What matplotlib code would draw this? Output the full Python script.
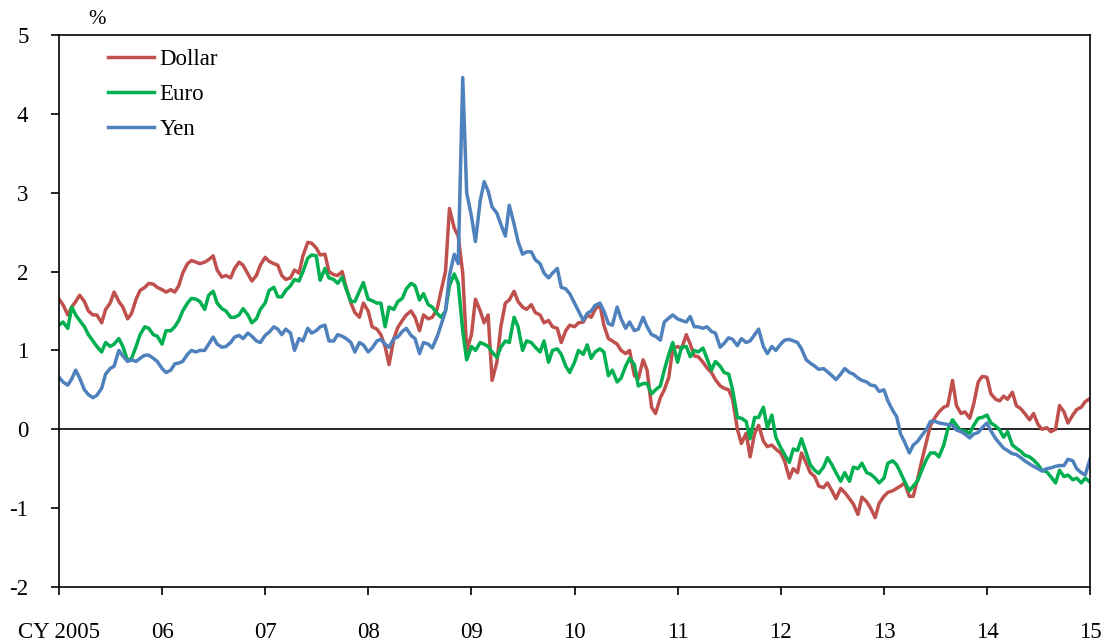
import numpy as np
import pandas as pd
import matplotlib
matplotlib.use("Agg")
import matplotlib.pyplot as plt

plt.rcParams["font.family"] = ["Liberation Serif", "DejaVu Serif"]
plt.rcParams["axes.unicode_minus"] = False

# semi-monthly observations, Jan 2005 - Jan 2015 (%)
dates = pd.date_range("2005-01-01", periods=241, freq="SMS")

dollar = [
    # 2005
    1.65, 1.58, 1.45, 1.55, 1.62, 1.70, 1.62, 1.50, 1.45, 1.45, 1.35, 1.52,
    1.60, 1.74, 1.62, 1.55, 1.40, 1.47, 1.65, 1.76, 1.80, 1.85, 1.84, 1.80,
    # 2006
    1.77, 1.74, 1.77, 1.74, 1.82, 1.98, 2.10, 2.14, 2.12, 2.10, 2.12, 2.15,
    2.20, 2.02, 1.93, 1.95, 1.92, 2.04, 2.12, 2.08, 1.97, 1.88, 1.95, 2.08,
    # 2007
    2.18, 2.13, 2.10, 2.08, 1.95, 1.90, 1.92, 2.02, 1.98, 2.20, 2.37, 2.36,
    2.30, 2.21, 2.22, 2.00, 1.96, 1.95, 2.00, 1.80, 1.60, 1.48, 1.42, 1.60,
    # 2008
    1.50, 1.30, 1.27, 1.20, 1.05, 0.82, 1.15, 1.29, 1.38, 1.45, 1.50, 1.42,
    1.25, 1.45, 1.40, 1.42, 1.52, 1.75, 2.00, 2.80, 2.55, 2.45, 1.98, 1.00,
    # 2009
    1.20, 1.65, 1.50, 1.35, 1.45, 0.62, 0.85, 1.30, 1.60, 1.64, 1.75, 1.62,
    1.55, 1.52, 1.58, 1.48, 1.45, 1.35, 1.38, 1.30, 1.28, 1.10, 1.25, 1.32,
    # 2010
    1.30, 1.35, 1.36, 1.45, 1.42, 1.52, 1.58, 1.32, 1.15, 1.12, 1.08, 1.00,
    0.96, 1.00, 0.68, 0.64, 0.88, 0.75, 0.28, 0.20, 0.40, 0.50, 0.66, 1.02,
    # 2011
    1.05, 1.02, 1.20, 1.08, 0.93, 0.92, 0.85, 0.78, 0.72, 0.63, 0.55, 0.52,
    0.50, 0.38, 0.00, -0.18, -0.05, -0.35, -0.05, 0.05, -0.15, -0.22, -0.20, -0.25,
    # 2012
    -0.30, -0.40, -0.62, -0.50, -0.55, -0.30, -0.43, -0.55, -0.60, -0.72, -0.74, -0.68,
    -0.78, -0.88, -0.75, -0.80, -0.88, -0.95, -1.08, -0.86, -0.92, -1.00, -1.12, -0.94,
    # 2013
    -0.85, -0.80, -0.78, -0.75, -0.72, -0.68, -0.85, -0.85, -0.62, -0.40, -0.15, 0.05,
    0.15, 0.22, 0.28, 0.30, 0.62, 0.30, 0.20, 0.22, 0.14, 0.32, 0.60, 0.67,
    # 2014
    0.66, 0.45, 0.38, 0.36, 0.42, 0.38, 0.47, 0.30, 0.26, 0.20, 0.12, 0.20,
    0.06, 0.00, 0.02, -0.03, 0.00, 0.30, 0.22, 0.08, 0.18, 0.25, 0.28, 0.35,
    # 2015
    0.39,
]

euro = [
    # 2005
    1.32, 1.36, 1.28, 1.55, 1.45, 1.38, 1.30, 1.20, 1.12, 1.05, 0.98, 1.10,
    1.05, 1.08, 1.15, 1.05, 0.87, 0.90, 1.05, 1.20, 1.30, 1.28, 1.20, 1.18,
    # 2006
    1.08, 1.25, 1.25, 1.30, 1.38, 1.50, 1.60, 1.66, 1.65, 1.62, 1.52, 1.70,
    1.75, 1.60, 1.53, 1.50, 1.42, 1.42, 1.45, 1.53, 1.45, 1.35, 1.40, 1.52,
    # 2007
    1.60, 1.76, 1.80, 1.68, 1.68, 1.76, 1.82, 1.90, 1.88, 2.00, 2.17, 2.21,
    2.20, 1.89, 2.04, 1.92, 1.90, 1.85, 1.93, 1.78, 1.62, 1.62, 1.75, 1.86,
    # 2008
    1.65, 1.63, 1.60, 1.60, 1.30, 1.55, 1.52, 1.62, 1.66, 1.78, 1.85, 1.82,
    1.64, 1.72, 1.58, 1.55, 1.47, 1.42, 1.50, 1.82, 1.97, 1.85, 1.25, 0.88,
    # 2009
    1.05, 1.00, 1.10, 1.08, 1.05, 0.98, 0.91, 1.04, 1.12, 1.10, 1.42, 1.30,
    1.00, 1.12, 1.10, 1.04, 0.98, 1.12, 0.85, 1.00, 1.02, 0.95, 0.80, 0.72,
    # 2010
    0.85, 1.00, 0.95, 1.07, 0.90, 0.98, 1.02, 0.98, 0.68, 0.75, 0.60, 0.65,
    0.80, 0.90, 0.82, 0.55, 0.58, 0.58, 0.45, 0.50, 0.55, 0.75, 0.95, 1.10,
    # 2011
    0.85, 1.04, 1.05, 0.92, 1.00, 0.98, 1.03, 0.90, 0.75, 0.86, 0.80, 0.72,
    0.70, 0.50, 0.15, 0.14, 0.10, -0.12, 0.15, 0.15, 0.28, 0.02, 0.18, -0.10,
    # 2012
    -0.23, -0.32, -0.42, -0.25, -0.27, -0.12, -0.30, -0.45, -0.52, -0.56, -0.48, -0.36,
    -0.45, -0.55, -0.66, -0.55, -0.66, -0.48, -0.50, -0.43, -0.55, -0.57, -0.62, -0.68,
    # 2013
    -0.62, -0.43, -0.40, -0.45, -0.55, -0.66, -0.78, -0.72, -0.65, -0.52, -0.38, -0.30,
    -0.30, -0.35, -0.20, 0.00, 0.12, 0.05, -0.02, -0.02, -0.05, 0.05, 0.14, 0.15,
    # 2014
    0.18, 0.08, 0.04, -0.01, -0.10, -0.03, -0.20, -0.24, -0.28, -0.33, -0.35, -0.39,
    -0.45, -0.52, -0.54, -0.60, -0.68, -0.52, -0.60, -0.58, -0.64, -0.62, -0.68, -0.62,
    # 2015
    -0.67,
]

yen = [
    # 2005
    0.66, 0.60, 0.56, 0.64, 0.75, 0.65, 0.50, 0.44, 0.40, 0.43, 0.52, 0.70,
    0.77, 0.80, 1.00, 0.93, 0.86, 0.88, 0.86, 0.90, 0.94, 0.94, 0.90, 0.86,
    # 2006
    0.77, 0.72, 0.75, 0.83, 0.84, 0.86, 0.95, 1.00, 0.98, 1.00, 1.00, 1.08,
    1.17, 1.08, 1.04, 1.05, 1.10, 1.17, 1.19, 1.15, 1.22, 1.18, 1.12, 1.10,
    # 2007
    1.19, 1.23, 1.30, 1.27, 1.20, 1.27, 1.22, 1.00, 1.15, 1.12, 1.28, 1.22,
    1.25, 1.30, 1.32, 1.12, 1.12, 1.20, 1.18, 1.15, 1.10, 0.98, 1.10, 1.07,
    # 2008
    0.98, 1.03, 1.12, 1.14, 1.08, 1.04, 1.15, 1.17, 1.24, 1.28, 1.19, 1.15,
    0.96, 1.10, 1.08, 1.03, 1.17, 1.32, 1.50, 1.95, 2.22, 2.10, 4.46, 3.00,
    # 2009
    2.70, 2.38, 2.90, 3.14, 3.02, 2.82, 2.74, 2.60, 2.45, 2.84, 2.60, 2.38,
    2.22, 2.25, 2.25, 2.15, 2.10, 1.98, 1.92, 1.98, 2.04, 1.80, 1.78, 1.72,
    # 2010
    1.60, 1.50, 1.38, 1.47, 1.50, 1.57, 1.60, 1.50, 1.34, 1.32, 1.55, 1.40,
    1.28, 1.36, 1.25, 1.27, 1.42, 1.30, 1.20, 1.18, 1.13, 1.36, 1.41, 1.45,
    # 2011
    1.40, 1.38, 1.36, 1.43, 1.30, 1.30, 1.28, 1.30, 1.24, 1.22, 1.04, 1.09,
    1.16, 1.14, 1.06, 1.15, 1.10, 1.12, 1.20, 1.27, 1.05, 0.96, 1.05, 1.00,
    # 2012
    1.08, 1.13, 1.14, 1.12, 1.10, 1.02, 0.88, 0.84, 0.80, 0.76, 0.77, 0.73,
    0.68, 0.63, 0.70, 0.77, 0.72, 0.70, 0.65, 0.62, 0.60, 0.56, 0.55, 0.48,
    # 2013
    0.50, 0.36, 0.24, 0.16, -0.06, -0.16, -0.30, -0.20, -0.15, -0.08, 0.00, 0.10,
    0.10, 0.08, 0.07, 0.06, 0.05, -0.01, -0.03, -0.06, -0.11, -0.06, -0.04, 0.02,
    # 2014
    0.08, -0.02, -0.12, -0.18, -0.24, -0.27, -0.31, -0.32, -0.36, -0.40, -0.44, -0.47,
    -0.50, -0.53, -0.50, -0.49, -0.47, -0.46, -0.46, -0.38, -0.40, -0.50, -0.55, -0.58,
    # 2015
    -0.38,
]

years = pd.date_range("2005-01-01", "2015-01-01", freq="YS")
year_labels = ["CY 2005", "06", "07", "08", "09", "10", "11", "12", "13", "14", "15"]

fig = plt.figure(figsize=(11.16, 6.43), dpi=100)
ax = fig.add_axes([0.0529, 0.0871, 0.9238, 0.8585])

ax.plot(dates, dollar, color="#C0504D", lw=2.5, label="Dollar")
ax.plot(dates, euro, color="#00B050", lw=2.5, label="Euro")
ax.plot(dates, yen, color="#4F81BD", lw=2.5, label="Yen")
ax.axhline(0, color="black", lw=1.2, zorder=1)

ax.set_xlim(years[0], years[-1])
ax.set_ylim(-2, 5)
ax.set_yticks(np.arange(-2, 6, 1))
ax.set_xticks(years)
ax.set_xticklabels(year_labels)

for s in ax.spines.values():
    s.set_linewidth(1.2)
ax.tick_params(axis="both", direction="out", length=6, width=1.2, labelsize=16.5)
ax.tick_params(axis="x", pad=19)
ax.tick_params(axis="y", pad=16)

fig.text(97 / 1116, 1 - 20 / 643, "%", fontsize=15, ha="center", va="center")

ax.legend(loc="upper left", bbox_to_anchor=(0.0475, 0.975), frameon=False,
          fontsize=16.5, handlelength=2.0, handletextpad=0.25,
          labelspacing=0.62, borderpad=0, borderaxespad=0)

fig.savefig("out.png", dpi=100)
